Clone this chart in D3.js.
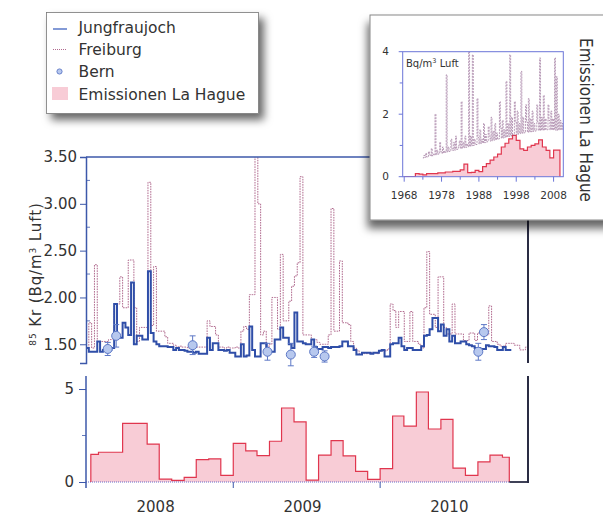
<!DOCTYPE html>
<html>
<head>
<meta charset="utf-8">
<script src="https://cdn.jsdelivr.net/npm/d3@7"></script>
<style>
  body { margin: 0; background: #fff; }
  svg { display: block; }
  text { font-family: "DejaVu Sans", Verdana, sans-serif; fill: #333; }
</style>
</head>
<body>
<svg id="chart" width="603" height="515"></svg>
<script>
// ---- 85Kr activity, weekly samples starting 1 Jan 2008 (Bq/m3 air) ----
const weekStart = new Date(2008, 0, 1);
const jungfraujoch = [
  1.46,1.42,1.42,1.42,1.53,1.42,1.44,1.44,1.44,1.46,
  1.93,1.57,1.57,1.73,1.68,1.60,2.16,1.50,1.59,1.59,
  1.55,1.55,2.28,1.62,1.53,1.50,1.48,1.48,1.48,1.47,
  1.47,1.44,1.46,1.44,1.44,1.43,1.42,1.42,1.41,1.42,
  1.40,1.40,1.40,1.57,1.44,1.51,1.51,1.44,1.44,1.43,
  1.44,1.41,1.41,1.37,1.37,1.50,1.37,1.38,1.69,1.44,
  1.37,1.37,1.51,1.51,1.39,1.42,1.42,1.55,1.55,1.68,
  1.57,1.57,1.50,1.46,1.84,1.53,1.53,1.51,1.50,1.50,
  1.55,1.47,1.45,1.45,1.47,1.47,1.46,1.47,1.47,1.47,
  1.48,1.53,1.53,1.48,1.48,1.44,1.39,1.39,1.41,1.41,
  1.41,1.40,1.41,1.41,1.43,1.44,1.37,1.37,1.50,1.51,
  1.51,1.57,1.48,1.44,1.46,1.46,1.44,1.44,1.44,1.48,
  1.59,1.60,1.66,1.78,1.78,1.64,1.71,1.59,1.66,1.53,
  1.59,1.51,1.51,1.53,1.53,1.50,1.49,1.48,1.46,1.46,
  1.45,1.45,1.49,1.48,1.48,1.47,1.44,1.44,1.47,1.44,1.44
];
const freiburg = [
  1.46,1.73,1.46,2.35,1.53,1.53,1.53,1.53,1.55,1.55,
  1.93,1.93,2.22,1.89,1.89,2.40,2.40,1.89,1.53,1.68,
  1.68,1.68,3.23,1.70,2.33,1.64,1.64,1.64,1.58,1.51,
  1.51,1.49,1.47,1.48,1.47,1.47,1.46,1.47,1.46,1.47,
  1.47,1.47,1.47,1.75,1.69,1.69,1.60,1.47,1.47,1.46,
  1.47,1.46,1.46,1.47,1.46,1.64,1.69,1.66,2.03,2.03,
  3.62,3.00,1.60,1.64,1.46,1.50,2.00,2.00,1.66,2.46,
  1.75,1.75,1.96,2.12,2.23,2.37,3.29,1.60,1.60,1.60,
  1.55,1.55,1.52,1.50,1.50,1.50,1.60,2.95,1.64,1.64,
  2.39,1.73,1.73,1.71,1.53,1.46,1.43,1.40,1.40,1.40,
  1.40,1.41,1.41,1.40,1.43,1.43,1.43,1.45,1.93,1.86,
  1.68,1.85,1.85,1.53,1.53,1.85,1.53,1.53,1.50,1.46,
  1.89,2.49,1.82,1.82,1.68,2.22,2.22,1.68,1.61,1.61,
  1.93,1.61,1.61,1.61,1.54,1.54,1.62,1.62,1.54,1.62,
  1.62,1.60,1.60,1.91,1.53,1.53,1.50,1.48,1.48,1.51,
  1.51,1.51,1.49,1.49,1.44,1.44,1.47
];

// ---- Bern grab samples with uncertainty ----
const bernDates  = ["2008-02-24","2008-03-16","2008-09-22","2009-03-27","2009-05-24",
                    "2009-07-21","2009-08-16","2010-09-02","2010-09-16"];
const bernValues = [1.45, 1.59, 1.49, 1.42, 1.39, 1.42, 1.37, 1.42, 1.63];
const bernErrors = [0.07, 0.12, 0.10, 0.09, 0.12, 0.06, 0.06, 0.09, 0.08];

// ---- La Hague monthly emissions (Jan 2008 .. Nov 2010) ----
const emissionFirstDay = "2008-01-13";
const emissionLastDay  = "2010-11-18";
const emissionMonthly = [
  1.49,1.60,1.60,3.15,3.15,2.04,0.16,0.09,0.25,1.20,1.24,0.36,
  2.08,1.67,1.42,2.19,3.98,3.23,0.10,1.45,2.22,1.40,0.57,0.14,
  0.72,3.55,3.01,4.84,2.85,3.37,0.75,0.36,1.08,1.45,1.33
];

// ---- axis ticks and labels ----
const mainTicks = [1.5, 2.0, 2.5, 3.0, 3.5];
const mainMinorTicks = [1.75, 2.25, 2.75, 3.25];
const emissionTicks = [0, 5];
const emissionMinorTicks = [2.5];
const yearLabels = ["2008", "2009", "2010"];

// ---- inset: long-term record since 1968 ----
const insetEmissionStart = 1968;
const insetEmissionEnd = 2009.7;
const insetEmissionYearly = [
  0,0,0,0.10,0.08,0.06,0.10,0.10,0.10,0.12,
  0.12,0.15,0.15,0.17,0.17,0.22,0.40,0.13,0.14,0.20,
  0.16,0.32,0.42,0.53,0.63,0.72,0.95,1.07,1.21,1.32,
  1.16,0.89,0.84,0.95,1.00,1.05,1.18,0.95,0.84,0.60,
  0.85,0.85
];
const insetSeriesStart = 1973;
const insetSeriesQuarterly = [
  0.60,0.68,0.62,0.75, 0.63,0.64,0.80,0.70, 0.66,0.90,0.67,0.72, 0.69,2.00,0.70,0.85,
  0.72,0.74,1.10,0.80, 0.75,0.95,0.76,0.82, 0.78,3.26,0.79,0.95, 0.81,0.83,1.20,0.90,
  0.84,1.10,0.85,1.30, 0.87,0.88,1.00,1.15, 0.90,2.40,0.91,1.10, 0.93,1.30,0.94,1.05,
  0.96,4.00,0.97,1.30, 0.99,3.90,1.00,1.20, 1.02,1.03,2.50,1.25, 1.05,1.50,1.06,1.20,
  1.08,1.70,1.09,1.35, 1.11,1.12,1.60,1.30, 1.14,1.90,1.15,1.45, 1.17,1.70,1.18,1.40,
  1.20,1.21,2.40,1.55, 1.23,1.80,1.24,1.50, 1.26,3.05,1.27,1.70, 1.29,3.90,1.30,1.90,
  1.32,1.33,2.40,1.75, 1.35,2.10,1.36,1.70, 1.38,3.37,1.39,1.90, 1.40,1.41,2.30,1.75,
  1.42,2.50,1.43,1.85, 1.44,2.10,1.45,1.70, 1.46,1.47,2.30,1.75, 1.48,3.80,1.48,1.90,
  1.49,2.60,1.49,1.85, 1.50,1.50,2.30,1.80, 1.50,2.10,1.50,1.85, 1.50,3.80,1.49,3.20,
  1.48,2.00,1.50,1.80, 1.50,1.70,1.51,1.60
];
const insetYearTicks = [1968, 1978, 1988, 1998, 2008];
const insetYearMinorTicks = [1973, 1983, 1993, 2003];
const insetValueTicks = [0, 2, 4];
const insetValueMinorTicks = [1, 3];

// ================= drawing =================
const svg = d3.select("#chart");
const parse = d3.timeParse("%Y-%m-%d");
const defs = svg.append("defs");

const blue = "#2f4ea8", axisBlue = "#3c58aa", dark = "#2a2c44";
const plum = "#b06a8e", bernFill = "#b7c8ee", bernStroke = "#5d78c6";
const pinkFill = "#f8ccd6", red = "#e0364e";

const x = d3.scaleTime()
  .domain([new Date(2008, 0, 1), new Date(2011, 0, 1)])
  .range([86, 527]);
const yMain = d3.scaleLinear().domain([1.3, 3.5]).range([363, 157]);
const yEm = d3.scaleLinear().domain([0, 5.7]).range([482, 376]);

defs.append("clipPath").attr("id", "clipMain")
  .append("rect").attr("x", 86).attr("y", 157).attr("width", 441).attr("height", 206);

function weekly(values) {
  const pts = values.map((v, i) => ({ date: d3.timeDay.offset(weekStart, 7 * i), v }));
  pts.push({ date: d3.timeDay.offset(weekStart, 7 * values.length), v: values[values.length - 1] });
  return pts;
}

const stepMain = d3.line().curve(d3.curveStepAfter)
  .x(d => x(d.date)).y(d => yMain(d.v));

// ---- main panel ----
const main = svg.append("g");
const plot = main.append("g").attr("clip-path", "url(#clipMain)");

plot.append("path").datum(weekly(freiburg))
  .attr("d", stepMain).attr("fill", "none")
  .attr("stroke", plum).attr("stroke-width", 1)
  .attr("stroke-dasharray", "1.6,1");

plot.append("path").datum(weekly(jungfraujoch))
  .attr("d", stepMain).attr("fill", "none")
  .attr("stroke", blue).attr("stroke-width", 2);

const bern = bernDates.map((d, i) => ({ date: parse(d), v: bernValues[i], e: bernErrors[i] }));
const bernG = main.append("g").selectAll("g").data(bern).join("g");
bernG.append("line")
  .attr("x1", d => x(d.date)).attr("x2", d => x(d.date))
  .attr("y1", d => yMain(d.v - d.e)).attr("y2", d => yMain(d.v + d.e))
  .attr("stroke", bernStroke).attr("stroke-width", 1);
[-1, 1].forEach(s => {
  bernG.append("line")
    .attr("x1", d => x(d.date) - 3).attr("x2", d => x(d.date) + 3)
    .attr("y1", d => yMain(d.v + s * d.e)).attr("y2", d => yMain(d.v + s * d.e))
    .attr("stroke", bernStroke).attr("stroke-width", 1);
});
bernG.append("circle")
  .attr("cx", d => x(d.date)).attr("cy", d => yMain(d.v)).attr("r", 4.5)
  .attr("fill", bernFill).attr("stroke", bernStroke).attr("stroke-width", 1);

// frame of the main panel
main.append("line").attr("x1", 86).attr("x2", 528).attr("y1", 157).attr("y2", 157)
  .attr("stroke", axisBlue).attr("stroke-width", 1.5);
main.append("line").attr("x1", 528).attr("x2", 528).attr("y1", 157).attr("y2", 363)
  .attr("stroke", dark).attr("stroke-width", 2);

const leftMain = main.append("g").attr("transform", "translate(86,0)")
  .call(d3.axisLeft(yMain).tickValues(mainTicks).tickFormat(d3.format(".2f"))
    .tickSize(6).tickPadding(3));
leftMain.select(".domain").attr("stroke", axisBlue).attr("stroke-width", 1.5);
leftMain.selectAll(".tick line").attr("stroke", axisBlue);
leftMain.selectAll(".tick text").attr("font-size", 15).attr("fill", "#333")
  .attr("font-family", "DejaVu Sans, Verdana, sans-serif");
main.append("g").selectAll("line").data(mainMinorTicks).join("line")
  .attr("x1", 86).attr("x2", 90).attr("y1", d => yMain(d)).attr("y2", d => yMain(d))
  .attr("stroke", axisBlue).attr("stroke-width", 0.8);

const yLabel = main.append("text")
  .attr("transform", "translate(40.5,274) rotate(-90)")
  .attr("text-anchor", "middle").attr("font-size", 15).attr("letter-spacing", 0.9);
yLabel.append("tspan").attr("font-size", 9).attr("baseline-shift", "super").text("85");
yLabel.append("tspan").text(" Kr (Bq/m");
yLabel.append("tspan").attr("font-size", 9).attr("baseline-shift", "super").text("3");
yLabel.append("tspan").text(" Luft)");

// ---- emission panel ----
const em = svg.append("g");
const emPts = emissionMonthly.map((v, i) => ({
  date: i === 0 ? parse(emissionFirstDay) : d3.timeMonth.offset(new Date(2008, 0, 1), i),
  v
}));
const emEnd = parse(emissionLastDay);
const emArea = emPts.concat([{ date: emEnd, v: emissionMonthly[emissionMonthly.length - 1] }]);
const emLine = [{ date: emPts[0].date, v: 0 }].concat(emArea, [{ date: emEnd, v: 0 }]);

em.append("path").datum(emArea)
  .attr("d", d3.area().curve(d3.curveStepAfter)
    .x(d => x(d.date)).y0(yEm(0)).y1(d => yEm(d.v)))
  .attr("fill", pinkFill);
em.append("line").attr("x1", 86).attr("x2", x(emEnd)).attr("y1", yEm(0)).attr("y2", yEm(0))
  .attr("stroke", "#6a6ac8").attr("stroke-width", 1).attr("stroke-dasharray", "1,1");
em.append("path").datum(emLine)
  .attr("d", d3.line().curve(d3.curveStepAfter).x(d => x(d.date)).y(d => yEm(d.v)))
  .attr("fill", "none").attr("stroke", red).attr("stroke-width", 1.2);
em.append("line").attr("x1", x(emEnd)).attr("x2", 528).attr("y1", yEm(0)).attr("y2", yEm(0))
  .attr("stroke", dark).attr("stroke-width", 1.8);
em.append("line").attr("x1", 528).attr("x2", 528).attr("y1", 376).attr("y2", yEm(0) + 0.9)
  .attr("stroke", dark).attr("stroke-width", 2);

const leftEm = em.append("g").attr("transform", "translate(86,0)")
  .call(d3.axisLeft(yEm).tickValues(emissionTicks).tickFormat(d3.format("d"))
    .tickSize(7).tickPadding(5));
leftEm.select(".domain").attr("d", "M0,376V488").attr("stroke", axisBlue).attr("stroke-width", 1.5);
leftEm.selectAll(".tick line").attr("stroke", axisBlue);
leftEm.selectAll(".tick text").attr("font-size", 15).attr("fill", "#333")
  .attr("font-family", "DejaVu Sans, Verdana, sans-serif");
em.append("g").selectAll("line").data(emissionMinorTicks).join("line")
  .attr("x1", 82).attr("x2", 86).attr("y1", d => yEm(d)).attr("y2", d => yEm(d))
  .attr("stroke", axisBlue).attr("stroke-width", 0.8);

// year ticks on the boundaries, labels at mid-year
const yearStarts = yearLabels.map(y => new Date(+y, 0, 1));
em.append("g").selectAll("line").data(yearStarts.slice(1)).join("line")
  .attr("x1", d => x(d)).attr("x2", d => x(d)).attr("y1", yEm(0)).attr("y2", yEm(0) + 6)
  .attr("stroke", axisBlue).attr("stroke-width", 1);
em.append("g").selectAll("text").data(yearLabels).join("text")
  .attr("x", d => x(new Date(+d, 6, 2)) - 4).attr("y", 511.5)
  .attr("text-anchor", "middle").attr("font-size", 15).text(d => d);

// ---- legend ----
const shadowL = defs.append("filter").attr("id", "shadowLegend")
  .attr("x", "-10%").attr("y", "-10%").attr("width", "130%").attr("height", "140%");
shadowL.append("feDropShadow").attr("dx", 5).attr("dy", 6).attr("stdDeviation", 4)
  .attr("flood-color", "#000").attr("flood-opacity", 0.6);

const legend = svg.append("g");
legend.append("rect").attr("x", 46.5).attr("y", 12.5).attr("width", 212).attr("height", 101)
  .attr("fill", "#fff").attr("stroke", "#777").attr("stroke-width", 0.8)
  .attr("filter", "url(#shadowLegend)");
const legendNames = ["Jungfraujoch", "Freiburg", "Bern", "Emissionen La Hague"];
const legendRows = [27, 49.5, 71.5, 94];
legend.append("line").attr("x1", 53).attr("x2", 67).attr("y1", legendRows[0] + 2).attr("y2", legendRows[0] + 2)
  .attr("stroke", "#5a78c8").attr("stroke-width", 1.5);
legend.append("line").attr("x1", 53).attr("x2", 67).attr("y1", legendRows[1]).attr("y2", legendRows[1])
  .attr("stroke", plum).attr("stroke-width", 1).attr("stroke-dasharray", "1,1");
legend.append("circle").attr("cx", 59.5).attr("cy", legendRows[2]).attr("r", 2.6)
  .attr("fill", bernFill).attr("stroke", bernStroke).attr("stroke-width", 0.9);
legend.append("rect").attr("x", 52).attr("y", legendRows[3] - 7).attr("width", 16).attr("height", 13)
  .attr("fill", pinkFill);
legend.selectAll("text.name").data(legendNames).join("text").attr("class", "name")
  .attr("x", 78.5).attr("y", (d, i) => legendRows[i]).attr("dy", "0.36em")
  .attr("font-size", 15.5).text(d => d);

// ---- inset: long-term record ----
const shadowI = defs.append("filter").attr("id", "shadowInset")
  .attr("x", "-10%").attr("y", "-10%").attr("width", "130%").attr("height", "140%");
shadowI.append("feDropShadow").attr("dx", -2).attr("dy", 8).attr("stdDeviation", 4)
  .attr("flood-color", "#000").attr("flood-opacity", 0.6);

const inset = svg.append("g");
inset.append("rect").attr("x", 370).attr("y", 15).attr("width", 260).attr("height", 205)
  .attr("fill", "#fff").attr("stroke", "#888").attr("stroke-width", 1)
  .attr("filter", "url(#shadowInset)");

const xi = d3.scaleLinear().domain([1967.6, 2010.6]).range([402.7, 563.3]);
const yi = d3.scaleLinear().domain([0, 4]).range([176.7, 51.7]);

defs.append("clipPath").attr("id", "clipInset")
  .append("rect").attr("x", 402.7).attr("y", 51.7).attr("width", 160.6).attr("height", 125);

const insetPlot = inset.append("g").attr("clip-path", "url(#clipInset)");
const iemPts = insetEmissionYearly.map((v, i) => ({ t: insetEmissionStart + i, v }));
iemPts.push({ t: insetEmissionEnd, v: insetEmissionYearly[insetEmissionYearly.length - 1] });
insetPlot.append("path").datum(iemPts)
  .attr("d", d3.area().curve(d3.curveStepAfter).x(d => xi(d.t)).y0(yi(0)).y1(d => yi(d.v)))
  .attr("fill", pinkFill);
insetPlot.append("path").datum(iemPts.concat([{ t: insetEmissionEnd, v: 0 }]))
  .attr("d", d3.line().curve(d3.curveStepAfter).x(d => xi(d.t)).y(d => yi(d.v)))
  .attr("fill", "none").attr("stroke", red).attr("stroke-width", 1.2);

const iser = insetSeriesQuarterly.map((v, i) => ({ t: insetSeriesStart + i / 4, v }));
insetPlot.append("path").datum(iser)
  .attr("d", d3.line().curve(d3.curveStepAfter).x(d => xi(d.t)).y(d => yi(d.v)))
  .attr("fill", "none").attr("stroke", "#8a5a88").attr("stroke-width", 0.7)
  .attr("stroke-dasharray", "2,1").attr("opacity", 0.85);

inset.append("rect").attr("x", 402.7).attr("y", 51.7).attr("width", 160.6).attr("height", 125)
  .attr("fill", "none").attr("stroke", "#6c76d8").attr("stroke-width", 1);

inset.append("g").selectAll("line").data(insetYearTicks.concat(insetYearMinorTicks)).join("line")
  .attr("x1", d => xi(d)).attr("x2", d => xi(d)).attr("y1", yi(0))
  .attr("y2", d => yi(0) + (insetYearTicks.includes(d) ? 5 : 3))
  .attr("stroke", "#6c76d8").attr("stroke-width", 1);
inset.append("g").selectAll("text").data(insetYearTicks).join("text")
  .attr("x", d => xi(d)).attr("y", 199).attr("text-anchor", "middle")
  .attr("font-size", 10.5).text(d => d);
inset.append("g").selectAll("line").data(insetValueTicks.concat(insetValueMinorTicks)).join("line")
  .attr("x1", 402.7).attr("x2", d => 402.7 - (insetValueTicks.includes(d) ? 4 : 3))
  .attr("y1", d => yi(d)).attr("y2", d => yi(d))
  .attr("stroke", "#6c76d8").attr("stroke-width", 1);
inset.append("g").selectAll("text").data(insetValueTicks).join("text")
  .attr("x", 389).attr("y", d => yi(d)).attr("dy", "0.36em").attr("text-anchor", "end")
  .attr("font-size", 10.5).text(d => d);

const unit = inset.append("text").attr("x", 406).attr("y", 67).attr("font-size", 10).attr("fill", "#222");
unit.append("tspan").text("Bq/m");
unit.append("tspan").attr("font-size", 6.5).attr("baseline-shift", "super").text("3");
unit.append("tspan").text(" Luft");

inset.append("text")
  .attr("transform", "translate(580,120) rotate(90)")
  .attr("text-anchor", "middle").attr("font-size", 17)
  .attr("textLength", 164).attr("lengthAdjust", "spacingAndGlyphs")
  .attr("fill", "#2a2a2a").text("Emissionen La Hague");
</script>
</body>
</html>
